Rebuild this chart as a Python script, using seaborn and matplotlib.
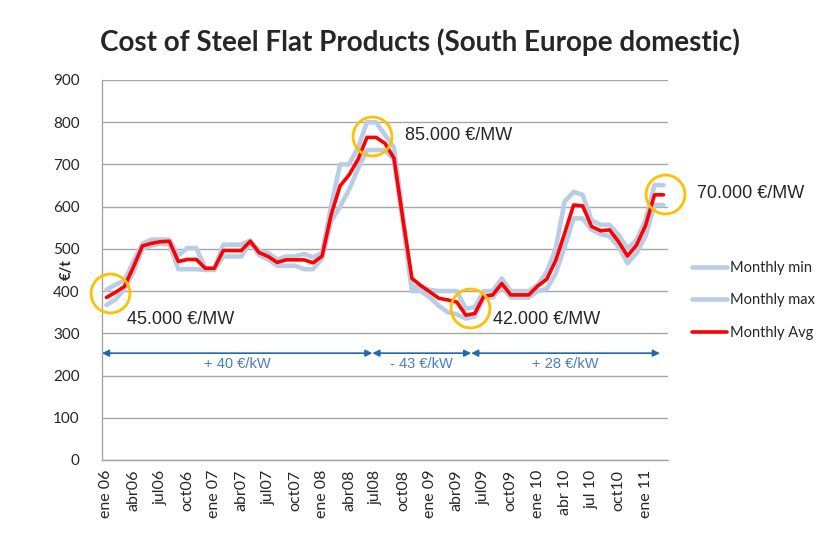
import numpy as np
import pandas as pd
import matplotlib
matplotlib.use("Agg")
import matplotlib.pyplot as plt
import seaborn as sns

# monthly values, ene 06 .. mar 11 (EUR/t)
monthly_avg = [385, 397, 411, 457, 507, 513, 517, 518, 470, 475, 475, 454, 454, 496, 496, 496,
               518, 491, 482, 468, 474, 474, 474, 467, 483, 580, 649, 675, 712, 764, 764, 750,
               715, 570, 430, 413, 398, 383, 379, 374, 343, 347, 388, 391, 418, 391, 391, 391,
               412, 428, 472, 537, 604, 602, 553, 543, 545, 517, 483, 509, 555, 628, 628]
monthly_max = [403, 415, 425, 470, 512, 522, 522, 522, 485, 502, 502, 455, 452, 510, 510, 510,
               520, 495, 490, 475, 482, 482, 488, 480, 490, 600, 700, 700, 740, 800, 800, 770,
               740, 580, 410, 410, 403, 400, 400, 400, 358, 362, 400, 400, 430, 400, 400, 400,
               415, 445, 500, 612, 635, 628, 568, 557, 557, 533, 501, 521, 568, 651, 651]
monthly_min = [367, 380, 405, 445, 500, 508, 512, 512, 452, 452, 452, 450, 450, 482, 482, 482,
               515, 485, 475, 460, 460, 460, 452, 452, 478, 565, 600, 640, 690, 734, 734, 734,
               711, 560, 400, 400, 385, 365, 350, 345, 335, 340, 385, 385, 410, 385, 385, 385,
               400, 405, 442, 505, 572, 572, 545, 535, 530, 505, 466, 490, 530, 604, 604]

tick_labels = ["ene 06", "abr06", "jul06", "oct06", "ene 07", "abr07", "jul07", "oct07",
               "ene 08", "abr08", "jul08", "oct08", "ene 09", "abr09", "jul09", "oct09",
               "ene 10", "abr 10", "jul 10", "oct10", "ene 11"]

# highlighted points (month position, value) and their labels
highlights = [(0.4, 395), (29.6, 767), (40.5, 359), (62.2, 630)]
highlight_labels = ["45.000 €/MW", "85.000 €/MW", "42.000 €/MW", "70.000 €/MW"]

# periods marked with arrows: (start, end, label)
periods = [(-0.5, 29.6, "+ 40 €/kW"), (29.6, 40.6, "- 43 €/kW"), (40.6, 61.6, "+ 28 €/kW")]
period_level = 253

sns.set_theme(style="white")
plt.rcParams['font.family'] = ['Lato', 'DejaVu Sans']

df = pd.DataFrame({
    "month": np.arange(len(monthly_avg)),
    "Monthly min": monthly_min,
    "Monthly max": monthly_max,
    "Monthly Avg": monthly_avg,
})

fig = plt.figure(figsize=(8.21, 5.34), dpi=100)
ax = fig.add_axes([0.1242, 0.1386, 0.6894, 0.7116])

light = "#B9CDE5"
sns.lineplot(data=df, x="month", y="Monthly min", ax=ax, color=light, lw=3.3, label="Monthly min")
sns.lineplot(data=df, x="month", y="Monthly max", ax=ax, color=light, lw=3.3, label="Monthly max")
sns.lineplot(data=df, x="month", y="Monthly Avg", ax=ax, color="#FF0000", lw=2.6, label="Monthly Avg")

ax.set_xlim(-0.5, len(monthly_avg) - 0.5)
ax.set_ylim(0, 900)
ax.set_yticks(range(0, 901, 100))
ax.set_xticks(np.arange(0, len(monthly_avg), 3)[:len(tick_labels)])
ax.set_xticklabels(tick_labels, rotation=90, fontsize=11.5)
ax.tick_params(axis="y", labelsize=11, pad=10)
ax.tick_params(axis="x", pad=7, length=0)
ax.grid(axis="y", color="#A6A6A6", lw=1.0)
ax.set_axisbelow(True)
for s in ["top", "right"]:
    ax.spines[s].set_visible(False)
for s in ["left", "bottom"]:
    ax.spines[s].set_color("#A6A6A6")
    ax.spines[s].set_linewidth(1.0)

ax.set_xlabel("")
ax.set_ylabel("€/t", fontsize=10.5, fontweight="bold")
ax.yaxis.set_label_coords(-0.05, 0.5)

# circles + labels
gold = "#FFC000"
text_pos = [(127, 320), (405, 136), (493, 319), (697, 194)]
for (hx, hy), lab in zip(highlights, highlight_labels):
    ax.plot(hx, hy, "o", ms=28, mfc="none", mec=gold, mew=2, clip_on=False, zorder=5)
for (tx, ty), lab in zip(text_pos, highlight_labels):
    fig.text(tx / 821, 1 - ty / 534, lab, fontsize=13, family="Liberation Sans",
             ha="left", va="center")

# period arrows
arrow_c = "#1F6AAE"
for x0, x1, lab in periods:
    ax.annotate("", xy=(x1, period_level), xytext=(x0, period_level),
                arrowprops=dict(arrowstyle="<|-|>", color=arrow_c, lw=1.2,
                                mutation_scale=10, shrinkA=0, shrinkB=0))
    ax.text((x0 + x1) / 2, period_level - 10, lab, ha="center", va="top",
            fontsize=10.5, color="#4A7EBB", family="Liberation Sans")

ax.legend(loc="center left", bbox_to_anchor=(1.02, 0.42), frameon=False,
          fontsize=10.5, handlelength=2.4, handletextpad=0.15, labelspacing=1.25)

fig.text(0.512, 1 - 42 / 534, "Cost of Steel Flat Products (South Europe domestic)",
         ha="center", va="center", fontsize=20, fontweight="bold")

fig.savefig("out.png", dpi=100)
